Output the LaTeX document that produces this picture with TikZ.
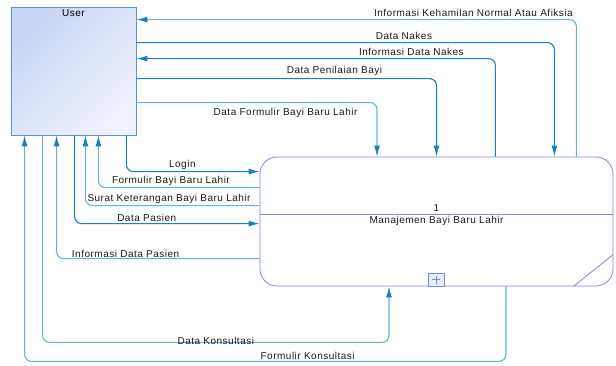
\documentclass[tikz,border=0pt]{standalone}
\usepackage{fontspec}
\setmainfont{Liberation Sans}[LetterSpace=5]
\usetikzlibrary{arrows.meta,positioning}
\definecolor{flowblue}{RGB}{24,128,196}
\definecolor{flowlight}{RGB}{100,178,222}
\definecolor{procedge}{RGB}{130,130,255}
\definecolor{useredge}{RGB}{84,150,206}

\begin{document}
\begin{tikzpicture}[
    x=1pt,y=-1pt,font=\fontsize{10}{12}\selectfont,
    entity/.style={draw=useredge,line width=.8pt,top color={rgb,255:red,200;green,214;blue,245},bottom color={rgb,255:red,240;green,241;blue,254},shading angle=45,minimum width=125pt,minimum height=128pt,inner sep=0pt},
    process/.style={draw=procedge,line width=.8pt,rounded corners=17pt,minimum width=353pt,minimum height=129pt,inner sep=0pt},
    flow/.style={draw=flowblue,line width=1.1pt,rounded corners=7pt,-{Latex[length=11pt,width=6pt,color=flowblue]}},
    flowl/.style={flow,draw=flowlight},
    lbl/.style={inner sep=1pt,text=black!90}
    ]
    \useasboundingbox (0,0) rectangle (616,365);
    \node[entity] (user) at (73.5,71) {};
    \node[below=3pt of user.north,inner sep=0pt] (usertxt) {User};
    \node[process] (proc) at (436.5,221.5) {};
    \draw[procedge,line width=.8pt] ([yshift=7.5pt]proc.west) -- ([yshift=7.5pt]proc.east);
    \draw[procedge,line width=.8pt] ([yshift=32pt]proc.south east) -- ([xshift=-40pt]proc.south east);
    \node[lbl] (pnum) at ([yshift=13.5pt]proc.center) {1};
    \node[lbl] (pname) at ([yshift=0.5pt]proc.center) {Manajemen Bayi Baru Lahir};
    \node[draw=procedge,fill={rgb,255:red,226;green,240;blue,255},line width=.8pt,minimum width=16pt,minimum height=13pt,inner sep=0pt,anchor=south] (plus) at ([xshift=-0.5pt]proc.south) {};
    \draw[procedge,line width=.7pt] ([xshift=-4pt]plus.center) -- ([xshift=4pt]plus.center)
      ([yshift=-4pt]plus.center) -- ([yshift=4pt]plus.center);
    % flows above
    \draw[flowl] ([xshift=-37pt]proc.north east) |- ([yshift=-13pt]user.north east)
      node[lbl,above=1pt,pos=.617] {Informasi Kehamilan Normal Atau Afiksia};
    \draw[flow] ([yshift=-36pt]user.north east) -| ([xshift=-59pt]proc.north east)
      node[lbl,above=1pt,pos=.32] {Data Nakes};
    \draw[flow] ([xshift=-118pt]proc.north east) |- ([yshift=-52pt]user.north east)
      node[lbl,above=1pt,pos=.617] {Informasi Data Nakes};
    \draw[flow] ([yshift=-72pt]user.north east) -| (proc.north)
      node[lbl,above=1pt,pos=.33] {Data Penilaian Bayi};
    \draw[flowl] ([yshift=-96pt]user.north east) -| ([xshift=-59.5pt]proc.north)
      node[lbl,below=4pt,pos=.31] {Data Formulir Bayi Baru Lahir};
    % flows below
    \draw[flow] ([xshift=-10pt]user.south east) |- ([yshift=-15pt]proc.north west)
      node[lbl,above=0pt,pos=.71] {Login};
    \draw[flowl] ([yshift=-31pt]proc.north west) -| ([xshift=-38pt]user.south east)
      node[lbl,above=0pt,pos=.275] {Formulir Bayi Baru Lahir};
    \draw[flowl] ([yshift=-49pt]proc.north west) -| ([xshift=-51pt]user.south east)
      node[lbl,above=0pt,pos=.26] {Surat Keterangan Bayi Baru Lahir};
    \draw[flow] ([xshift=64pt]user.south west) |- ([yshift=-67pt]proc.north west)
      node[lbl,above=0pt,pos=.695] {Data Pasien};
    \draw[flowl] ([yshift=-102pt]proc.north west) -| ([xshift=46pt]user.south west)
      node[lbl,above=-1pt,pos=.33] {Informasi Data Pasien};
    \draw[flowl] ([xshift=32pt]user.south west) -- ++(0pt,-207pt) -| ([xshift=-47.5pt]proc.south)
      node[lbl,pos=.25,yshift=1pt] {Data Konsultasi};
    \draw[flowl] ([xshift=69.5pt]proc.south) -- ++(0pt,-75pt) -| ([xshift=14pt]user.south west)
      node[lbl,above=0pt,pos=.206] {Formulir Konsultasi};
\end{tikzpicture}
\end{document}
